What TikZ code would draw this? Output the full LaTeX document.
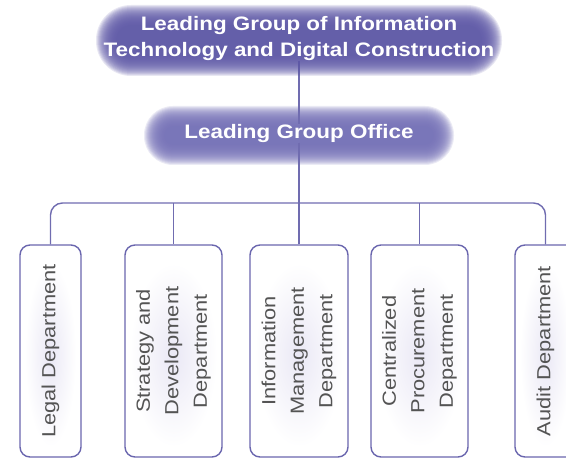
\documentclass[tikz,border=0pt]{standalone}
\usepackage{fontspec}
\setmainfont{Liberation Sans}[FakeStretch=1.15]
\usetikzlibrary{positioning, backgrounds}
\definecolor{pillcore}{RGB}{94,88,166}
\definecolor{pilllight}{RGB}{116,112,182}
\definecolor{linkline}{RGB}{112,108,176}
\definecolor{boxedge}{RGB}{106,102,174}
\definecolor{deptgray}{RGB}{84,84,84}
\definecolor{textglow}{RGB}{234,232,245}

% soft pill: centre x, centre y, core width, core height, colour
\newcommand\glowpill[5]{%
  \foreach \d in {12,11,...,-8}
    \fill[#5, opacity=0.14, rounded corners={#4/2+\d-0.5}] (#1-#3/2-\d,#2-#4/2-\d) rectangle (#1+#3/2+\d,#2+#4/2+\d);
}

\begin{document}
\begin{tikzpicture}[x=1pt, y=1pt,
    lead/.style={font=\fontsize{19.5}{26}\selectfont\bfseries, text=white, align=center, inner sep=0pt},
    dept/.style={draw=boxedge, line width=1.4pt, rounded corners=10pt, rotate=90, align=center,
                 text=deptgray, font=\fontsize{19}{28.5}\selectfont, inner sep=0pt},
    link/.style={draw=linkline, line width=1.4pt}]
    \useasboundingbox (0,0) rectangle (566,461);

    % Leading group and its office
    \node[lead] (group) at (299,422.5) {Leading Group of Information\\Technology and Digital Construction};
    \node[lead] (office) at (299,327.5) {Leading Group Office};

    % Departments
    \foreach \n/\x/\w/\t in {legal/50.5/61/{Legal Department},
                             strat/173.5/97/{Strategy and\\Development\\Department},
                             info/299/98/{Information\\Management\\Department},
                             procure/419.5/97/{Centralized\\Procurement\\Department},
                             audit/545.5/61/{Audit Department}} {
        \node[dept, minimum width=212pt, minimum height=\w pt] (\n) at (\x,110) {\t};
    }

    \coordinate (bus) at (299,258);

    \begin{scope}[on background layer]
        % text glow inside the boxes
        \foreach \x/\w in {50.5/61, 173.5/97, 299/98, 419.5/97, 545.5/61}
            \shade[inner color=textglow, outer color=white] (\x,106) ellipse ({\w/2-5} and 92);

        % Connectors
        \draw[link] (group) -- (office);
        \draw[link] (office) -- (bus);
        \draw[link, rounded corners=12pt] (legal.east) |- (bus) -| (audit.east);
        \foreach \n in {strat, info, procure}
            \draw[link] (\n.east) -- (\n.east |- bus);

        % Pills
        \glowpill{299}{420.5}{382}{47}{pillcore}
        \glowpill{299}{325.5}{286}{35}{pilllight}
    \end{scope}
\end{tikzpicture}
\end{document}
